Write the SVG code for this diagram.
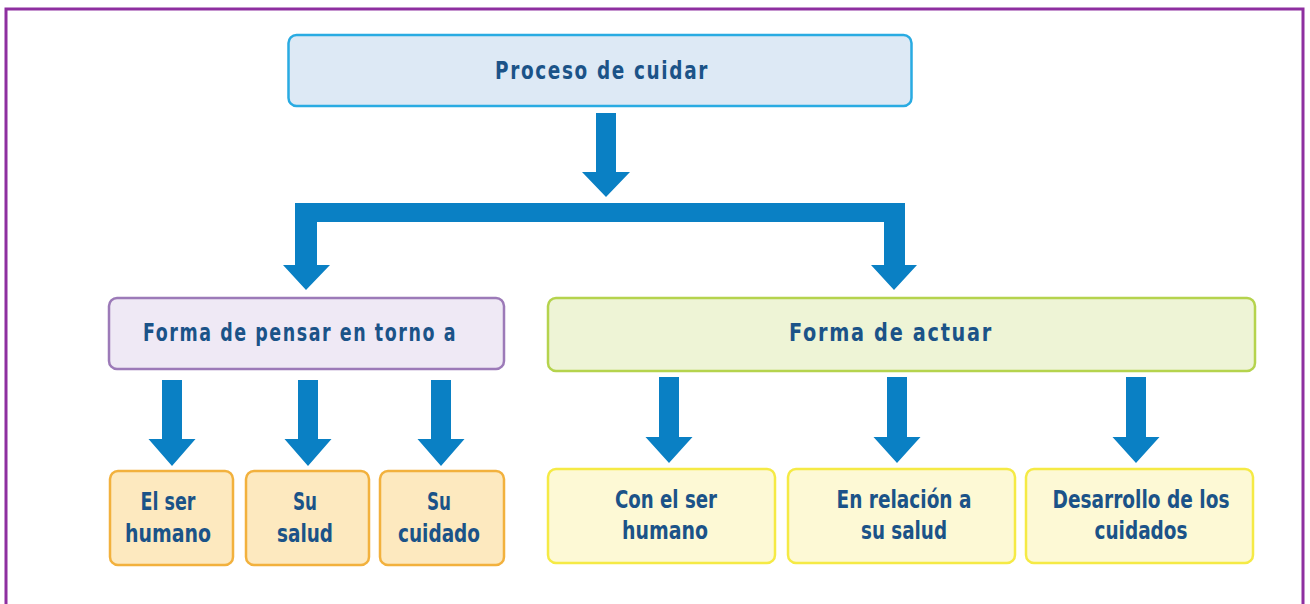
<svg xmlns="http://www.w3.org/2000/svg" width="1310" height="604" viewBox="0 0 1310 604">
<style>
.t{font-family:"DejaVu Sans Condensed","DejaVu Sans",sans-serif;font-weight:bold;fill:#1b5388;text-anchor:middle;font-size:25px}
.h{letter-spacing:2px}
.arr{fill:#0a80c4}
</style>
<rect x="0" y="0" width="1310" height="604" fill="#ffffff"/>
<path d="M6,620 V9 H1303 V620" fill="none" stroke="#8e2fa0" stroke-width="3"/>
<g id="n-proceso">
<rect x="288.5" y="35" width="623" height="71" rx="8" fill="#dde9f5" stroke="#29abe2" stroke-width="2.5"/>
<text class="t h" x="602" y="79" textLength="214" lengthAdjust="spacingAndGlyphs">Proceso de cuidar</text>
</g>
<g id="n-pensar">
<rect x="109" y="298" width="395" height="71" rx="8" fill="#efe9f5" stroke="#9c7ab8" stroke-width="2.5"/>
<text class="t h" x="300" y="341" textLength="314" lengthAdjust="spacingAndGlyphs">Forma de pensar en torno a</text>
</g>
<g id="n-actuar">
<rect x="548" y="298" width="707" height="73" rx="8" fill="#eef4d6" stroke="#b5d34d" stroke-width="2.5"/>
<text class="t h" x="891" y="341" textLength="204" lengthAdjust="spacingAndGlyphs">Forma de actuar</text>
</g>
<g id="n-ser">
<rect x="110" y="471" width="123" height="94" rx="8" fill="#fde9bf" stroke="#f2b13d" stroke-width="2.5"/>
<text class="t" x="168" y="510" textLength="55" lengthAdjust="spacingAndGlyphs">El ser</text>
<text class="t" x="168" y="542" textLength="86" lengthAdjust="spacingAndGlyphs">humano</text>
</g>
<g id="n-salud">
<rect x="246" y="471" width="123" height="94" rx="8" fill="#fde9bf" stroke="#f2b13d" stroke-width="2.5"/>
<text class="t" x="305" y="510" textLength="24" lengthAdjust="spacingAndGlyphs">Su</text>
<text class="t" x="305" y="542" textLength="56" lengthAdjust="spacingAndGlyphs">salud</text>
</g>
<g id="n-cuidado">
<rect x="380" y="471" width="124" height="94" rx="8" fill="#fde9bf" stroke="#f2b13d" stroke-width="2.5"/>
<text class="t" x="439" y="510" textLength="24" lengthAdjust="spacingAndGlyphs">Su</text>
<text class="t" x="439" y="542" textLength="82" lengthAdjust="spacingAndGlyphs">cuidado</text>
</g>
<g id="n-conser">
<rect x="548" y="469" width="227" height="94" rx="8" fill="#fdf9d5" stroke="#f5ea45" stroke-width="2.5"/>
<text class="t" x="666" y="508" textLength="102" lengthAdjust="spacingAndGlyphs">Con el ser</text>
<text class="t" x="665" y="539" textLength="86" lengthAdjust="spacingAndGlyphs">humano</text>
</g>
<g id="n-relacion">
<rect x="788" y="469" width="227" height="94" rx="8" fill="#fdf9d5" stroke="#f5ea45" stroke-width="2.5"/>
<text class="t" x="904" y="508" textLength="135" lengthAdjust="spacingAndGlyphs">En relación a</text>
<text class="t" x="904" y="539" textLength="86" lengthAdjust="spacingAndGlyphs">su salud</text>
</g>
<g id="n-desarrollo">
<rect x="1026" y="469" width="227" height="94" rx="8" fill="#fdf9d5" stroke="#f5ea45" stroke-width="2.5"/>
<text class="t" x="1141" y="508" textLength="177" lengthAdjust="spacingAndGlyphs">Desarrollo de los</text>
<text class="t" x="1141" y="539" textLength="93" lengthAdjust="spacingAndGlyphs">cuidados</text>
</g>
<g id="connectors" class="arr">
<path d="M596,113 H616 V172 H630 L606,197 L582,172 H596 Z"/>
<path d="M295,265 V203 H905 V265 H917 L894,290 L871,265 H884 V222 H317 V265 H330 L306,290 L283,265 Z"/>
<path d="M162,380 H182 V439 H195.5 L172,466 L148.5,439 H162 Z"/>
<path d="M298,380 H318 V439 H331.5 L308,466 L284.5,439 H298 Z"/>
<path d="M431,380 H451 V439 H464.5 L441,466 L417.5,439 H431 Z"/>
<path d="M659,377 H679 V437 H692.5 L669,463 L645.5,437 H659 Z"/>
<path d="M887,377 H907 V437 H920.5 L897,463 L873.5,437 H887 Z"/>
<path d="M1126,377 H1146 V437 H1159.5 L1136,463 L1112.5,437 H1126 Z"/>
</g>
</svg>
